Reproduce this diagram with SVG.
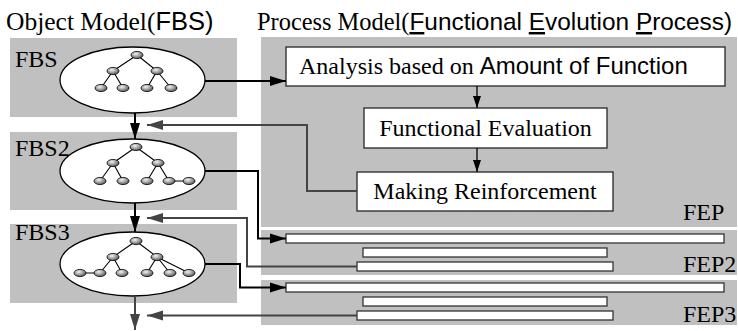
<svg xmlns="http://www.w3.org/2000/svg" width="738" height="331" viewBox="0 0 738 331">
  <style>
    .serif { font-family: "Liberation Serif", "Times New Roman", serif; font-size: 24px; fill: #000; }
    .sans { font-family: "Liberation Sans", Arial, sans-serif; }
    .panel { fill: #c0c0c0; }
    .shell { fill: #fff; stroke: #000; stroke-width: 1.3; }
    .edge { stroke: #000; stroke-width: 1.1; fill: none; }
    .leaf { fill: url(#nodeShade); stroke: #000; stroke-width: 0.8; }
    .box { fill: #fff; stroke: #333; stroke-width: 1.4; }
    .bar { fill: #fff; stroke: #333; stroke-width: 1.3; }
    .fwd { stroke: #000; stroke-width: 2; fill: none; }
    .back { stroke: #444; stroke-width: 2; fill: none; }
    .step { stroke: #000; stroke-width: 1.3; fill: none; }
  </style>
  <defs>
    <radialGradient id="nodeShade" cx="0.4" cy="0.35" r="0.7">
      <stop offset="0" stop-color="#f4f4f4"/>
      <stop offset="0.55" stop-color="#9a9a9a"/>
      <stop offset="1" stop-color="#4a4a4a"/>
    </radialGradient>
    <marker id="headBlack" markerUnits="userSpaceOnUse" markerWidth="17" markerHeight="11" refX="16" refY="5.5" orient="auto">
      <path d="M0,0.5 L16,5.5 L0,10.5 z" fill="#000"/>
    </marker>
    <marker id="headGray" markerUnits="userSpaceOnUse" markerWidth="17" markerHeight="11" refX="16" refY="5.5" orient="auto">
      <path d="M0,0.5 L16,5.5 L0,10.5 z" fill="#444"/>
    </marker>
    <marker id="headSmall" markerUnits="userSpaceOnUse" markerWidth="13" markerHeight="9" refX="12" refY="4.5" orient="auto">
      <path d="M0,0.5 L12,4.5 L0,8.5 z" fill="#000"/>
    </marker>
  </defs>

  <rect width="738" height="331" fill="#fff"/>

  <!-- column titles -->
  <text class="serif" x="6" y="30" style="font-size:25.5px">Object Model(<tspan class="sans">FBS)</tspan></text>
  <text class="serif" x="257" y="30" style="font-size:24.4px">Process Model(<tspan class="sans"><tspan style="text-decoration:underline">F</tspan>unctional <tspan style="text-decoration:underline">E</tspan>volution <tspan style="text-decoration:underline">P</tspan>rocess)</tspan></text>

  <!-- object model panels -->
  <g id="fbs1">
    <rect class="panel" x="10" y="38" width="227" height="79"/>
    <text class="serif" x="15" y="67">FBS</text>
    <ellipse class="shell" cx="132.5" cy="80" rx="72.5" ry="33"/>
    <path class="edge" d="M137,55 L113,71 M137,55 L157,71 M113,71 L101,88 M113,71 L123,88 M157,71 L147,88 M157,71 L171,88"/>
    <ellipse class="leaf" cx="137" cy="55" rx="6" ry="3.6"/>
    <ellipse class="leaf" cx="113" cy="71" rx="6" ry="3.6"/>
    <ellipse class="leaf" cx="157" cy="71" rx="6" ry="3.6"/>
    <ellipse class="leaf" cx="101" cy="88" rx="6" ry="3.6"/>
    <ellipse class="leaf" cx="123" cy="88" rx="6" ry="3.6"/>
    <ellipse class="leaf" cx="147" cy="88" rx="6" ry="3.6"/>
    <ellipse class="leaf" cx="171" cy="88" rx="6" ry="3.6"/>
  </g>

  <g id="fbs2">
    <rect class="panel" x="10" y="132" width="227" height="78"/>
    <text class="serif" x="15" y="156">FBS2</text>
    <ellipse class="shell" cx="132.5" cy="171" rx="72.5" ry="32"/>
    <path class="edge" d="M136,147 L113,163 M136,147 L158,163 M113,163 L100,181 M113,163 L123,181 M158,163 L147,181 M158,163 L169,181 M169,181 L189,181"/>
    <ellipse class="leaf" cx="136" cy="147" rx="6" ry="3.6"/>
    <ellipse class="leaf" cx="113" cy="163" rx="6" ry="3.6"/>
    <ellipse class="leaf" cx="158" cy="163" rx="6" ry="3.6"/>
    <ellipse class="leaf" cx="100" cy="181" rx="6" ry="3.6"/>
    <ellipse class="leaf" cx="123" cy="181" rx="6" ry="3.6"/>
    <ellipse class="leaf" cx="147" cy="181" rx="6" ry="3.6"/>
    <ellipse class="leaf" cx="169" cy="181" rx="6" ry="3.6"/>
    <ellipse class="leaf" cx="189" cy="181" rx="6" ry="3.6"/>
  </g>

  <g id="fbs3">
    <rect class="panel" x="10" y="224" width="227" height="79"/>
    <text class="serif" x="15" y="240">FBS3</text>
    <ellipse class="shell" cx="132.5" cy="264" rx="72.5" ry="32"/>
    <path class="edge" d="M136,241 L113,257 M136,241 L157,257 M113,257 L100,273 M113,257 L122,273 M157,257 L147,273 M157,257 L170,273 M157,257 L189,273 M80,273 L100,273"/>
    <ellipse class="leaf" cx="136" cy="241" rx="6" ry="3.6"/>
    <ellipse class="leaf" cx="113" cy="257" rx="6" ry="3.6"/>
    <ellipse class="leaf" cx="157" cy="257" rx="6" ry="3.6"/>
    <ellipse class="leaf" cx="80" cy="273" rx="6" ry="3.6"/>
    <ellipse class="leaf" cx="100" cy="273" rx="6" ry="3.6"/>
    <ellipse class="leaf" cx="122" cy="273" rx="6" ry="3.6"/>
    <ellipse class="leaf" cx="147" cy="273" rx="6" ry="3.6"/>
    <ellipse class="leaf" cx="170" cy="273" rx="6" ry="3.6"/>
    <ellipse class="leaf" cx="189" cy="273" rx="6" ry="3.6"/>
  </g>

  <!-- process model panels -->
  <g id="fep">
    <rect class="panel" x="261" y="37" width="476" height="190"/>
    <text class="serif" x="683" y="220">FEP</text>
  </g>
  <g id="analysis">
    <rect class="box" x="286" y="47" width="439" height="39"/>
    <text class="serif" x="299" y="74">Analysis based on <tspan class="sans">Amount of Function</tspan></text>
  </g>
  <g id="evaluation">
    <rect class="box" x="364" y="108" width="243" height="40"/>
    <text class="serif" x="485.5" y="136" text-anchor="middle">Functional Evaluation</text>
  </g>
  <g id="reinforcement">
    <rect class="box" x="357" y="172" width="256" height="39"/>
    <text class="serif" x="485" y="199" text-anchor="middle">Making Reinforcement</text>
  </g>

  <g id="fep2">
    <rect class="panel" x="261" y="230" width="476" height="45"/>
    <rect class="bar" x="286" y="234" width="438" height="9"/>
    <rect class="bar" x="363" y="248" width="244" height="9"/>
    <rect class="bar" x="357" y="262" width="256" height="9"/>
    <text class="serif" x="683" y="272">FEP2</text>
  </g>
  <g id="fep3">
    <rect class="panel" x="261" y="280" width="476" height="45"/>
    <rect class="bar" x="286" y="283" width="438" height="9"/>
    <rect class="bar" x="363" y="297" width="244" height="9"/>
    <rect class="bar" x="357" y="311" width="256" height="9"/>
    <text class="serif" x="683" y="322">FEP3</text>
  </g>

  <!-- connectors -->
  <g id="connectors">
    <!-- model to model -->
    <path class="fwd" d="M135,113 V139" marker-end="url(#headBlack)"/>
    <path class="fwd" d="M135,203 V232" marker-end="url(#headBlack)"/>
    <path class="back" d="M135,296 V330" marker-end="url(#headGray)"/>
    <!-- model into process -->
    <path class="fwd" d="M205,81 H286" marker-end="url(#headBlack)"/>
    <path class="fwd" d="M205,171 H258 V238.5 H286" marker-end="url(#headBlack)"/>
    <path class="fwd" d="M205,264 H240 V287.5 H286" marker-end="url(#headBlack)"/>
    <!-- process back into model -->
    <path class="back" d="M357,191 H307 V125 H147" marker-end="url(#headGray)"/>
    <path class="back" d="M357,266.5 H247 V218 H147" marker-end="url(#headGray)"/>
    <path class="back" d="M357,315.5 H147" marker-end="url(#headGray)"/>
    <!-- steps inside the process -->
    <path class="step" d="M477,86 V108" marker-end="url(#headSmall)"/>
    <path class="step" d="M477,148 V172" marker-end="url(#headSmall)"/>
  </g>
</svg>
